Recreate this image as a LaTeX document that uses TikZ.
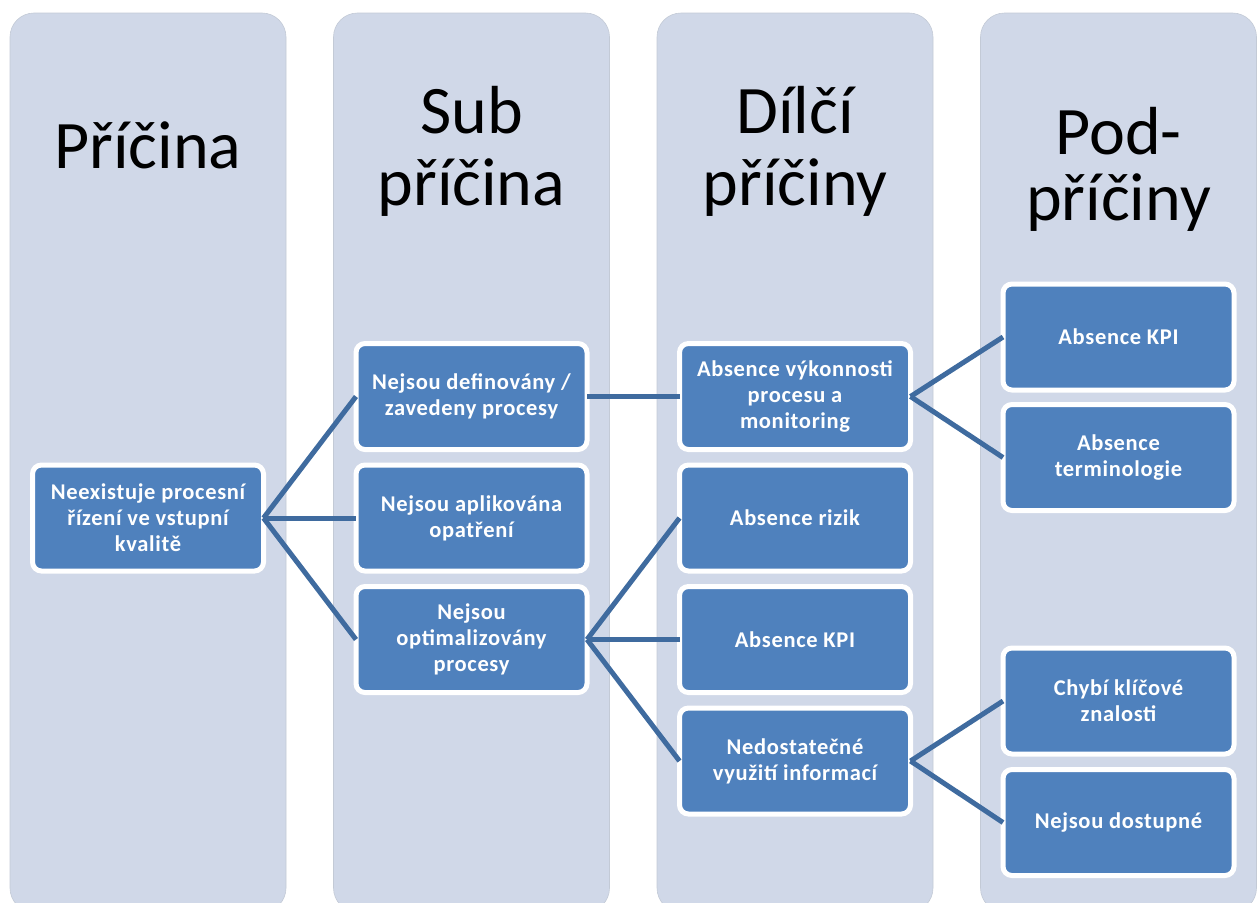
\documentclass[tikz,border=0pt]{standalone}
\usepackage{fontspec}
\setmainfont{Carlito}
\newfontfamily\cellfont[LetterSpace=3]{Carlito}

\definecolor{colbg}{HTML}{D0D8E8}
\definecolor{colline}{HTML}{C3CAD6}
\definecolor{boxblue}{HTML}{4F81BD}
\definecolor{linkblue}{HTML}{3F6B9F}

\begin{document}
\begin{tikzpicture}[x=1pt,y=-1pt,
    cell/.style={draw=white,line width=5pt,fill=boxblue,rounded corners=9pt,
      minimum width=231pt,minimum height=106pt,inner sep=2pt,outer sep=0pt,
      align=center,text=white,font=\cellfont\bfseries\fontsize{22.5}{26}\selectfont},
    title/.style={anchor=base,inner sep=0pt,font=\fontsize{68}{72}\selectfont},
    link/.style={draw=linkblue,line width=5pt}]

  \useasboundingbox (0,0) rectangle (1260,902);

  % Columns
  \foreach \cx in {148,471.5,795,1118.5}
      {\filldraw[fill=colbg,draw=colline,line width=0.6pt,rounded corners=24pt] (\cx-138,13) rectangle (\cx+138,912);}

  % Column titles
  \node[title] (t1) at (148,168) {Příčina};
  \node[title] (t2a) at (471.5,133) {Sub};
  \node[title] (t2b) at (471.5,205) {příčina};
  \node[title] (t3a) at (795,133) {Dílčí};
  \node[title] (t3b) at (795,205) {příčiny};
  \node[title] (t4a) at (1118.5,154) {Pod-};
  \node[title] (t4b) at (1118.5,220) {příčiny};

  % Cause
  \node[cell] (c0) at (148,518) {Neexistuje procesní\\řízení ve vstupní\\kvalitě};

  % Sub causes
  \foreach \t [count=\i from 0] in {{Nejsou definovány /\\zavedeny procesy},
      {Nejsou aplikována\\opatření},{Nejsou\\optimalizovány\\procesy}}
      \node[cell] (s\i) at (471.5,396.5+121.5*\i) {\t};

  % Partial causes
  \foreach \t [count=\i from 0] in {{Absence výkonnosti\\procesu a\\monitoring},
      {Absence rizik},{Absence KPI},{Nedostatečné\\využití informací}}
      \node[cell] (d\i) at (795,396.5+121.5*\i) {\t};

  % Sub-causes
  \foreach \t/\y [count=\i from 0] in {{Absence KPI}/337,{Absence\\terminologie}/457.5,
      {Chybí klíčové\\znalosti}/701,{Nejsou dostupné}/822.5}
      \node[cell] (p\i) at (1118.5,\y) {\t};

  % Links
  \foreach \i in {0,1,2}
      {\draw[link] (c0.east) -- (s\i.west);}
  \draw[link] (s0.east) -- (d0.west);
  \foreach \i in {1,2,3}
      {\draw[link] (s2.east) -- (d\i.west);}
  \foreach \i in {0,1}
      {\draw[link] (d0.east) -- (p\i.west);}
  \foreach \i in {2,3}
      {\draw[link] (d3.east) -- (p\i.west);}

\end{tikzpicture}
\end{document}
